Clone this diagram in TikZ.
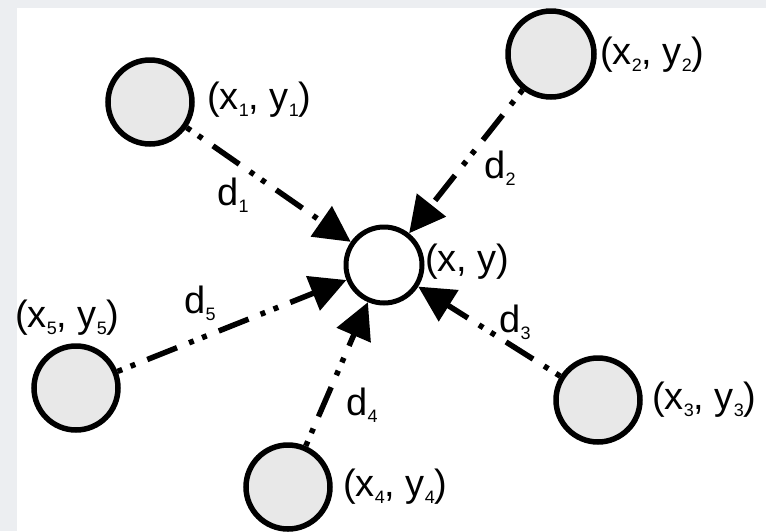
\documentclass[tikz,border=0pt]{standalone}
\usepackage{fontspec}
\setmainfont{Liberation Sans}
\usetikzlibrary{arrows.meta}
\definecolor{bgstrip}{HTML}{ECEEF1}
\definecolor{nodefill}{HTML}{E8E8E8}
\newcommand\mysub[1]{\raisebox{-7pt}{\fontsize{18}{18}\selectfont #1}}
\tikzset{
  pt/.style={circle,draw=black,line width=5.5pt,fill=nodefill,minimum size=84pt,inner sep=0pt},
  ctr/.style={circle,draw=black,line width=5pt,fill=white,minimum size=76pt,inner sep=0pt},
  lbl/.style={anchor=west,inner sep=0pt,font=\fontsize{38}{40}\selectfont},
  dl/.style={inner sep=0pt,font=\fontsize{38}{40}\selectfont},
  conn/.style={line width=5.5pt,dash pattern=on 5pt off 9pt on 5pt off 13pt on 32pt off 13pt,
    -{Triangle[length=36pt,width=36pt]}}
}
\begin{document}
\begin{tikzpicture}[x=1pt,y=-1pt]
\useasboundingbox (0,0) rectangle (766,531);
\fill[bgstrip] (0,0) rectangle (766,531);
\fill[white] (17,8) rectangle (766,531);
\node[pt] (n1) at (150,102) {};
\node[pt,minimum size=86pt] (n2) at (551,54) {};
\node[ctr] (c) at (384,265) {};
\node[pt] (n3) at (598,400) {};
\node[pt] (n4) at (288,487) {};
\node[pt] (n5) at (76,388) {};
\node[lbl] (l1) at (207,100) {(x\mysub{1}, y\mysub{1})};
\node[lbl] (l2) at (600,55) {(x\mysub{2}, y\mysub{2})};
\node[lbl] (lc) at (425,262) {(x, y)};
\node[lbl] (l3) at (652,400) {(x\mysub{3}, y\mysub{3})};
\node[lbl] (l4) at (343,487) {(x\mysub{4}, y\mysub{4})};
\node[lbl] (l5) at (15,318) {(x\mysub{5}, y\mysub{5})};
\node[dl] (d1) at (233,195) {d\mysub{1}};
\node[dl] (d2) at (500,168) {d\mysub{2}};
\node[dl] (d3) at (515,322) {d\mysub{3}};
\node[dl] (d4) at (362,405) {d\mysub{4}};
\node[dl] (d5) at (200,303) {d\mysub{5}};
\draw[conn] (n1) -- (c);
\draw[conn] (n2) -- (c);
\draw[conn] (n3) -- (c);
\draw[conn] (n4) -- (c);
\draw[conn] (n5) -- (c);
\end{tikzpicture}
\end{document}
